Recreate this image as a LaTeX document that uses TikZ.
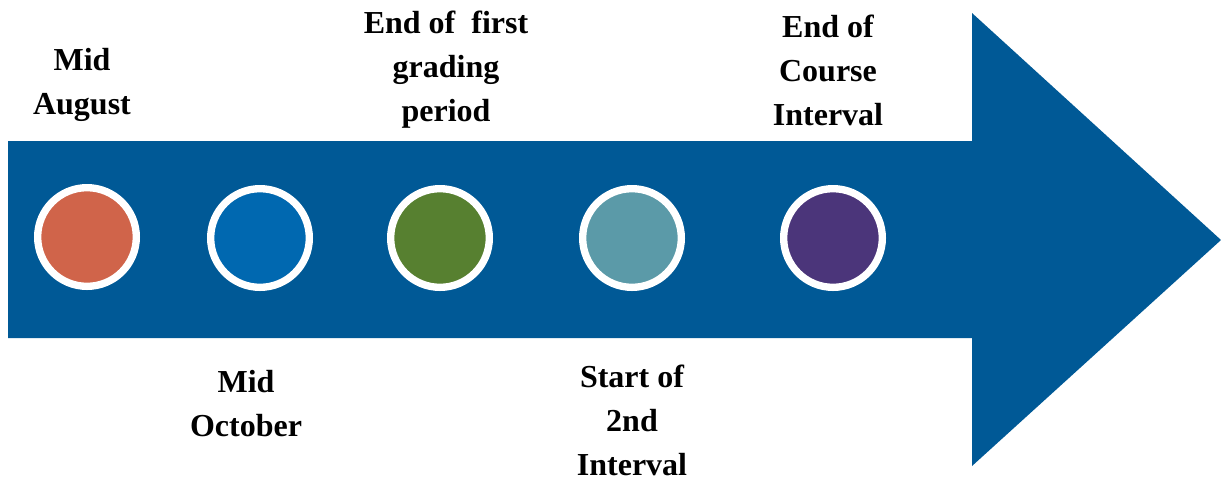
\documentclass[tikz,border=0pt]{standalone}
\usepackage{fontspec}
\setmainfont{Liberation Serif}
\definecolor{arrowblue}{RGB}{0,89,150}
\definecolor{dotorange}{RGB}{208,100,74}
\definecolor{dotblue}{RGB}{0,104,176}
\definecolor{dotgreen}{RGB}{87,128,48}
\definecolor{dotteal}{RGB}{91,154,168}
\definecolor{dotpurple}{RGB}{75,53,122}
\tikzset{every picture/.style={line width=0.75pt}}
\tikzset{
  dot/.style={circle, draw=white, line width=5.5pt, minimum size=74pt, inner sep=0pt},
  lbl/.style={align=center, inner sep=0.75pt, font=\fontsize{24}{33}\selectfont\bfseries}
}
\begin{document}
\begin{tikzpicture}[x=0.75pt,y=0.75pt,yscale=-1,xscale=1]
\useasboundingbox (0,0) rectangle (1221,480);

%Shape: Arrow
\fill [arrowblue] (8,141) -- (972,141) -- (972,13) -- (1221,240) -- (972,466) -- (972,338) -- (8,338) -- cycle ;

%Shape: Circle
\draw (87,237) node (aug) [dot, fill=dotorange] {};
%Shape: Circle
\draw (260,238) node (oct) [dot, fill=dotblue] {};
%Shape: Circle
\draw (440,238) node (grad) [dot, fill=dotgreen] {};
%Shape: Circle
\draw (632,238) node (start) [dot, fill=dotteal] {};
%Shape: Circle
\draw (833,238) node (course) [dot, fill=dotpurple] {};

% Text Node
\draw (82,85) node (taug) [lbl] {Mid\\August};
% Text Node
\draw (246,404) node (toct) [lbl] {Mid\\October};
% Text Node
\draw (446,70) node (tgrad) [lbl] {End of~ first\\grading\\period};
% Text Node
\draw (632,420) node (tstart) [lbl] {Start of\\2nd\\Interval};
% Text Node
\draw (828,70) node (tcourse) [lbl] {End of\\Course\\Interval};

\end{tikzpicture}
\end{document}
